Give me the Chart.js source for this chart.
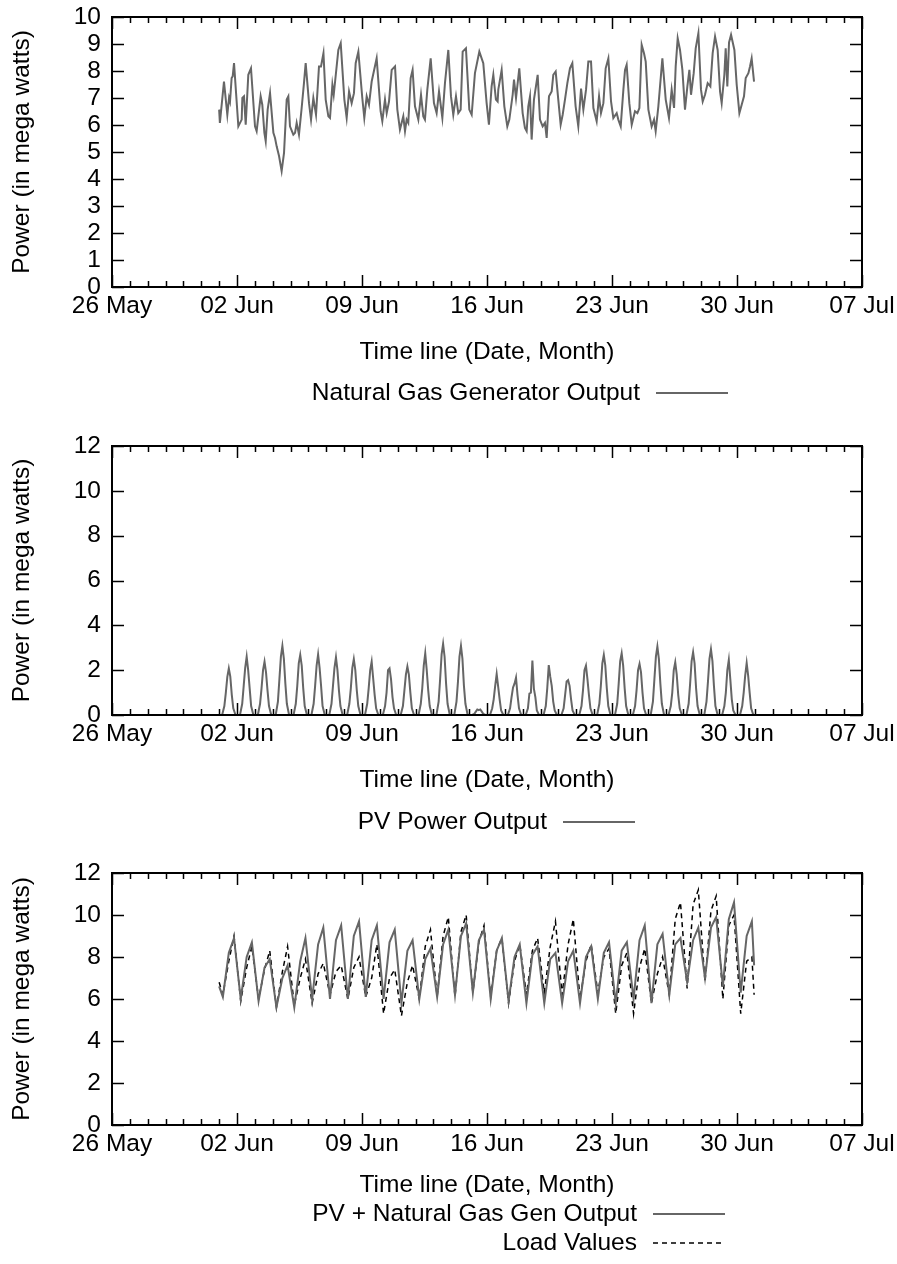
<!DOCTYPE html>
<html>
<head>
<meta charset="utf-8">
<script src="https://cdn.jsdelivr.net/npm/chart.js@4.4.0/dist/chart.umd.min.js"></script>
<style>
  body { margin: 0; background: #fff; }
  canvas { position: absolute; left: 0; }
</style>
</head>
<body>
<canvas id="gasChart" width="897" height="430" style="top:0"></canvas>
<canvas id="pvChart" width="897" height="430" style="top:430px"></canvas>
<canvas id="totalChart" width="897" height="404" style="top:860px"></canvas>
<script>
// x axis runs in days from 26 May; series hours count from 1 Jun 00:00
const tickDates = ['26 May', '02 Jun', '09 Jun', '16 Jun', '23 Jun', '30 Jun', '07 Jul'];

// natural gas generator output (MW)
const gasHours = [0, 1, 6.5, 11, 13.3, 14.6, 16.8, 18.2, 20, 25.8, 30.3, 31.2, 33.4, 35.7, 39.2, 42.8,
  48.2, 50.4, 55.8, 58, 60.8, 62.6, 65.2, 68.4, 72.9, 75.1, 77.3, 80.5, 84, 87.2, 90.8, 93, 95.2,
  99.7, 102, 104.2, 107.3, 110.9, 114, 116.3, 120.8, 123.5, 126.6, 130.2, 134.2, 136.9, 140.2,
  143.2, 146.8, 149, 152.2, 154, 160.2, 163.4, 168.3, 171.4, 174.6, 178.1, 181.2, 183.5, 187.1,
  192.4, 195.1, 198.3, 201.4, 205, 211.7, 217, 219.3, 222.9, 225.2, 228.3, 231.9, 236.4,
  239.5, 243, 247.5, 249.8, 252, 254.2, 257.4, 260, 263.2, 267.7, 271.3, 274.4, 276.6, 279.8,
  284.3, 288.7, 292.3, 295.5, 300, 303.5, 308, 311.6, 314.7, 318.3, 321.4, 324.6, 327.3, 331.7,
  336.2, 339.4, 343.8, 349.7, 355, 359.5, 362.6, 366.2, 368.5, 372, 374.3, 375.2, 379.7, 383.3,
  387.3, 390, 394.5, 396.3, 399, 403.4, 407.9, 411, 413.3, 415.5, 417.8, 420, 423.1, 428.1, 431.2,
  434.8, 437.9, 440.2, 443.3, 446.9, 449.1, 452.3, 455.8, 459, 461.7, 464.8, 468, 471.5, 474.7,
  479.1, 482.7, 486.4, 489.5, 493.1, 496.2, 499.8, 503, 507.4, 510.6, 513.2, 516.4, 519.5, 523.1,
  526.7, 529.8, 534.3, 536.5, 539.7, 543.3, 545.5, 547.7, 551.3, 554.5, 558.9, 562.1, 564.8, 567.9,
  571, 573.3, 576.9, 581.3, 584.5, 586.7, 590.3, 595.7, 600.2, 604.6, 608.2, 611.4, 613.6, 616.3,
  619.4, 622.6, 626.1, 629.3, 632, 634.2, 637.8, 640.5, 644.1, 647.6, 649.9, 653, 656.6, 660.2,
  663.3, 666.5, 670, 673.2, 675.4, 679, 680.8, 683, 685.3, 688, 692.5, 695.6, 699.2, 702.3, 705.4,
  707.7, 711.3, 713.5, 715.7, 718.9];
const gasMW = [6.57, 6.08, 7.61, 6.38, 7.0, 6.87, 7.74, 7.8, 8.29, 5.95, 6.2, 7.0, 7.06, 6.01, 7.86, 8.1,
  5.95, 5.77, 7.06, 6.75, 5.71, 5.4, 6.57, 7.18, 5.71, 5.52, 5.21, 4.85, 4.29, 4.97, 6.94, 7.06, 5.95,
  5.64, 5.71, 6.08, 5.64, 6.63, 7.55, 8.29, 6.81, 6.2, 7.0, 6.38, 8.17, 8.17, 8.66,
  6.94, 6.32, 6.26, 7.49, 7.12, 8.78, 9.03, 6.94, 6.26, 7.24, 6.81, 7.18, 8.29, 8.72,
  7.0, 6.26, 7.06, 6.75, 7.61, 8.47, 6.51, 6.14, 6.94, 6.44, 6.87, 8.04, 8.17,
  6.57, 5.83, 6.32, 5.77, 6.2, 6.08, 7.74, 8.04, 6.69, 6.2, 7.12, 6.32, 6.2, 7.31,
  8.47, 6.81, 6.44, 7.24, 6.26, 7.55, 8.78, 7.06, 6.38, 7.06, 6.44, 6.57, 8.72, 8.84,
  6.57, 6.38, 7.92, 8.72, 8.29, 6.81, 6.01, 7.43, 7.86, 6.94, 6.87, 7.31, 8.04, 6.69,
  5.95, 6.2, 7.12, 7.68, 7.0, 8.1, 6.44, 5.89, 5.77, 6.69, 7.06, 5.46, 6.94, 7.86, 6.2,
  5.95, 6.08, 5.52, 7.06, 7.24, 7.86, 7.98, 6.94, 6.01, 6.38, 6.94, 7.55, 8.1, 8.29,
  6.69, 5.95, 7.35, 6.57, 7.31, 8.35, 8.35, 6.63, 6.14, 7.06, 6.44, 6.81, 8.1, 8.47,
  6.87, 6.26, 6.44, 6.2, 5.95, 7.31, 8.04, 8.23, 6.81, 6.01, 6.51, 6.44, 6.63, 8.97,
  8.66, 8.35, 6.57, 5.95, 6.2, 5.77, 6.69, 8.47, 6.94, 6.26, 7.31, 6.63, 8.17, 9.21,
  8.78, 8.04, 6.57, 7.43, 8.04, 7.12, 7.92, 8.84, 9.4, 7.31, 6.87, 7.12, 7.55, 7.43,
  8.66, 9.28, 8.78, 7.24, 6.81, 7.86, 8.84, 7.43, 9.06, 9.34, 8.78, 7.49, 6.44, 6.75, 7.06,
  7.74, 7.92, 8.17, 8.47, 7.61];

// PV output (MW), one row per day from 1 Jun, sampled at these hours of the day
const pvHourOfDay = [4, 7, 9, 11, 13, 15, 17, 19, 22];
const pvDaily = [
  [0, 0.4, 1.0, 1.7, 2.08, 1.71, 0.9, 0.3, 0],
  [0, 0.5, 1.3, 2.1, 2.6, 2.0, 1.2, 0.4, 0],
  [0, 0.5, 1.2, 2.0, 2.38, 1.9, 1.1, 0.4, 0],
  [0, 0.6, 1.6, 2.6, 3.08, 2.5, 1.4, 0.5, 0],
  [0, 0.5, 1.3, 2.3, 2.68, 2.2, 1.2, 0.4, 0],
  [0, 0.5, 1.3, 2.2, 2.7, 2.1, 1.3, 0.4, 0],
  [0, 0.5, 1.3, 2.1, 2.57, 2.0, 1.1, 0.4, 0],
  [0, 0.5, 1.2, 2.1, 2.49, 2.0, 1.1, 0.4, 0],
  [0, 0.5, 1.2, 2.0, 2.38, 1.64, 0.9, 0.3, 0],
  [0, 0.4, 1.0, 2.0, 2.08, 1.6, 0.8, 0.3, 0],
  [0, 0.4, 1.1, 1.8, 2.16, 1.8, 1.0, 0.3, 0],
  [0, 0.5, 1.2, 2.2, 2.75, 2.0, 1.1, 0.4, 0],
  [0, 0.6, 1.6, 2.7, 3.17, 2.6, 1.4, 0.5, 0],
  [0, 0.6, 1.5, 2.6, 3.08, 2.5, 1.3, 0.5, 0],
  [0, 0.05, 0.15, 0.25, 0.22, 0.25, 0.15, 0.05, 0],
  [0, 0.3, 0.7, 1.3, 1.83, 1.27, 0.7, 0.2, 0],
  [0, 0.3, 0.8, 1.23, 1.4, 1.67, 0.9, 0.3, 0],
  [0, 0.3, 0.96, 1.0, 2.43, 1.18, 0.8, 0.2, 0],
  [0, 0.4, 1.2, 2.23, 1.71, 1.3, 0.6, 0.2, 0],
  [0, 0.3, 0.9, 1.5, 1.56, 1.3, 0.7, 0.2, 0],
  [0, 0.4, 1.1, 2.0, 2.2, 1.6, 0.9, 0.3, 0],
  [0, 0.5, 1.3, 2.3, 2.68, 2.2, 1.2, 0.4, 0],
  [0, 0.5, 1.4, 2.4, 2.75, 2.2, 1.2, 0.4, 0],
  [0, 0.4, 1.1, 2.0, 2.28, 1.9, 1.0, 0.3, 0],
  [0, 0.6, 1.6, 2.6, 3.05, 2.5, 1.4, 0.5, 0],
  [0, 0.4, 1.0, 2.0, 2.35, 1.8, 0.9, 0.3, 0],
  [0, 0.5, 1.4, 2.4, 2.8, 2.3, 1.2, 0.4, 0],
  [0, 0.6, 1.5, 2.5, 2.93, 2.4, 1.3, 0.4, 0],
  [0, 0.4, 1.0, 2.0, 2.46, 1.6, 0.7, 0.2, 0],
  [0, 0.4, 1.0, 1.76, 2.32, 1.76, 1.0, 0.3, 0]
];

// PV + gas combined output (MW)
const totalHours = [0, 5, 13, 20, 29, 37, 44, 53, 61, 68, 77, 85, 92, 101, 109, 116, 125, 133, 140,
  149, 157, 164, 173, 181, 188, 197, 205, 212, 221, 229, 236, 245, 253, 260, 269, 277, 284,
  293, 301, 308, 317, 325, 332, 341, 349, 356, 365, 373, 380, 389, 397, 404, 413, 421, 428,
  437, 445, 452, 461, 469, 476, 485, 493, 500, 509, 517, 524, 533, 541, 548, 557, 565, 572,
  581, 589, 596, 605, 613, 620, 629, 637, 644, 653, 661, 668, 677, 685, 692, 701, 709, 716, 719];
const totalMW = [6.6, 6.1, 8.2, 8.9, 6.0, 8.0, 8.7, 5.9, 7.5, 7.9, 5.6, 7.0, 7.6, 5.6, 7.8, 8.9,
  6.0, 8.6, 9.4, 6.0, 8.8, 9.5, 6.0, 9.0, 9.7, 6.1, 8.8, 9.5, 6.0, 8.7, 9.3, 5.8, 8.3, 8.8,
  6.0, 7.9, 8.4, 6.1, 8.6, 9.3, 6.2, 9.0, 9.6, 6.3, 8.8, 9.3, 6.0, 8.3, 8.9, 5.9, 8.0, 8.6,
  5.8, 8.1, 8.5, 5.8, 7.9, 8.2, 5.8, 7.8, 8.3, 5.8, 8.0, 8.5, 6.0, 8.2, 8.7, 5.8, 8.3, 8.7,
  6.0, 8.8, 9.5, 5.8, 8.6, 9.1, 6.2, 8.6, 8.9, 6.8, 8.8, 9.4, 7.0, 9.4, 9.9, 6.6, 9.8, 10.6,
  6.3, 9.0, 9.7, 7.6];

// measured load (MW)
const loadHours = [0, 5, 13, 20, 29, 37, 44, 53, 61, 68, 77, 85, 92, 101, 109, 116, 125, 133, 140,
  149, 157, 164, 173, 181, 188, 197, 205, 212, 221, 229, 236, 245, 253, 260, 269, 277, 284,
  293, 301, 308, 317, 325, 332, 341, 349, 356, 365, 373, 380, 389, 397, 404, 413, 421, 428,
  437, 445, 452, 461, 469, 476, 485, 493, 500, 509, 517, 524, 533, 541, 548, 557, 565, 572,
  581, 589, 596, 605, 613, 620, 629, 637, 644, 653, 661, 668, 677, 685, 692, 701, 709, 716, 719];
const loadMW = [6.8, 6.2, 7.8, 9.0, 5.9, 7.5, 8.5, 6.0, 7.4, 8.3, 5.6, 7.3, 8.5, 5.7, 7.0, 7.9,
  5.8, 7.2, 7.7, 6.2, 7.3, 7.6, 6.0, 7.5, 8.0, 6.1, 7.0, 8.6, 5.3, 7.0, 7.4, 5.2, 6.8, 7.6,
  6.0, 8.5, 9.3, 6.1, 9.0, 9.9, 6.1, 9.2, 10.0, 6.3, 8.7, 9.5, 6.1, 8.3, 8.9, 5.8, 7.8, 8.6,
  6.2, 8.3, 8.9, 6.3, 8.5, 9.7, 6.2, 8.6, 9.8, 6.0, 7.8, 8.6, 6.3, 8.0, 8.4, 5.3, 7.6, 8.2,
  5.3, 7.5, 8.4, 5.8, 7.2, 8.0, 6.2, 9.8, 10.6, 6.5, 10.5, 11.2, 6.8, 10.2, 10.9, 6.0, 9.5, 10.0,
  5.3, 7.8, 8.0, 6.2];

const FONT = { family: '"Liberation Sans", Arial, Helvetica, sans-serif', size: 24.5 };
const GREY = '#666666';

function toPoints(hours, values) {
  return hours.map((h, i) => ({ x: 6 + h / 24, y: values[i] }));
}

function pvPoints() {
  const pts = [{ x: 6, y: 0 }];
  pvDaily.forEach((row, d) => {
    row.forEach((v, j) => pts.push({ x: 6 + (24 * d + pvHourOfDay[j]) / 24, y: v }));
  });
  pts.push({ x: 6 + 719 / 24, y: 0 });
  return pts;
}

// gnuplot-like border with inward ticks, mirrored on the opposite side
const frameTicks = {
  id: 'frameTicks',
  afterDraw(chart) {
    const { ctx, chartArea: a, scales: { x, y } } = chart;
    ctx.save();
    ctx.strokeStyle = '#000';
    ctx.lineWidth = 1.5;
    ctx.beginPath();
    x.ticks.forEach(t => {
      const px = Math.round(x.getPixelForValue(t.value)) + 0.5;
      const len = t.value % 7 === 0 ? 12 : 6;
      ctx.moveTo(px, a.bottom); ctx.lineTo(px, a.bottom - len);
      ctx.moveTo(px, a.top); ctx.lineTo(px, a.top + len);
    });
    y.ticks.forEach(t => {
      const py = Math.round(y.getPixelForValue(t.value)) + 0.5;
      ctx.moveTo(a.left, py); ctx.lineTo(a.left + 12, py);
      ctx.moveTo(a.right, py); ctx.lineTo(a.right - 12, py);
    });
    ctx.stroke();
    ctx.lineWidth = 2;
    ctx.strokeRect(a.left, a.top, a.right - a.left, a.bottom - a.top);
    ctx.restore();
  }
};

// key below the axis title: text right-aligned, then a line sample
const keyBox = {
  id: 'keyBox',
  afterDraw(chart, args, opts) {
    const ctx = chart.ctx;
    ctx.save();
    ctx.font = FONT.size + 'px ' + FONT.family;
    ctx.fillStyle = '#000';
    ctx.textAlign = 'right';
    ctx.textBaseline = 'middle';
    opts.items.forEach(item => {
      const ds = chart.data.datasets[item.dataset];
      ctx.fillText(ds.label, opts.right, item.y);
      ctx.strokeStyle = ds.borderColor;
      ctx.lineWidth = ds.borderWidth;
      ctx.setLineDash(ds.borderDash || []);
      ctx.beginPath();
      ctx.moveTo(opts.right + 16, item.y);
      ctx.lineTo(opts.right + 88, item.y);
      ctx.stroke();
    });
    ctx.restore();
  }
};

function makePanel(id, cfg) {
  const dayTicks = Array.from({ length: 43 }, (_, i) => ({ value: i }));
  const powerTicks = Array.from({ length: cfg.yMax / cfg.yStep + 1 }, (_, i) => ({ value: i * cfg.yStep }));
  return new Chart(document.getElementById(id), {
    type: 'line',
    data: { datasets: cfg.datasets },
    options: {
      responsive: false,
      animation: false,
      events: [],
      layout: { padding: { top: cfg.top, right: 35, left: 0, bottom: cfg.bottom } },
      elements: { point: { radius: 0 }, line: { tension: 0 } },
      plugins: {
        legend: { display: false },
        tooltip: { enabled: false },
        keyBox: cfg.key
      },
      scales: {
        x: {
          type: 'linear', min: 0, max: 42,
          grid: { display: false, drawTicks: false },
          border: { display: false },
          afterBuildTicks: s => { s.ticks = dayTicks; },
          ticks: {
            autoSkip: false, maxRotation: 0, padding: 5, color: '#000', font: FONT,
            callback: v => (v % 7 === 0 ? tickDates[v / 7] : '')
          },
          title: { display: true, text: 'Time line (Date, Month)', color: '#000', font: FONT, padding: 0 },
          afterFit: s => { s.height = cfg.xHeight; s.paddingLeft = 0; s.paddingRight = 0; }
        },
        y: {
          min: 0, max: cfg.yMax,
          grid: { display: false, drawTicks: false },
          border: { display: false },
          afterBuildTicks: s => { s.ticks = powerTicks; },
          ticks: { autoSkip: false, padding: 11, color: '#000', font: FONT },
          title: { display: true, text: 'Power (in mega watts)', color: '#000', font: FONT, padding: { top: 8, bottom: 0 } },
          afterFit: s => { s.width = 112; s.paddingTop = 0; s.paddingBottom = 0; }
        }
      }
    },
    plugins: [frameTicks, keyBox]
  });
}

makePanel('gasChart', {
  top: 17, bottom: 63, xHeight: 80, yMax: 10, yStep: 1,
  datasets: [{ label: 'Natural Gas Generator Output', data: toPoints(gasHours, gasMW), borderColor: GREY, borderWidth: 2 }],
  key: { right: 640, items: [{ dataset: 0, y: 393 }] }
});

makePanel('pvChart', {
  top: 16, bottom: 65, xHeight: 80, yMax: 12, yStep: 2,
  datasets: [{ label: 'PV Power Output', data: pvPoints(), borderColor: GREY, borderWidth: 2 }],
  key: { right: 547, items: [{ dataset: 0, y: 392 }] }
});

makePanel('totalChart', {
  top: 13, bottom: 64, xHeight: 75, yMax: 12, yStep: 2,
  datasets: [
    { label: 'PV + Natural Gas Gen Output', data: toPoints(totalHours, totalMW), borderColor: GREY, borderWidth: 2 },
    { label: 'Load Values', data: toPoints(loadHours, loadMW), borderColor: '#000', borderWidth: 1.5, borderDash: [5, 4] }
  ],
  key: { right: 637, items: [{ dataset: 0, y: 354 }, { dataset: 1, y: 383 }] }
});
</script>
</body>
</html>
